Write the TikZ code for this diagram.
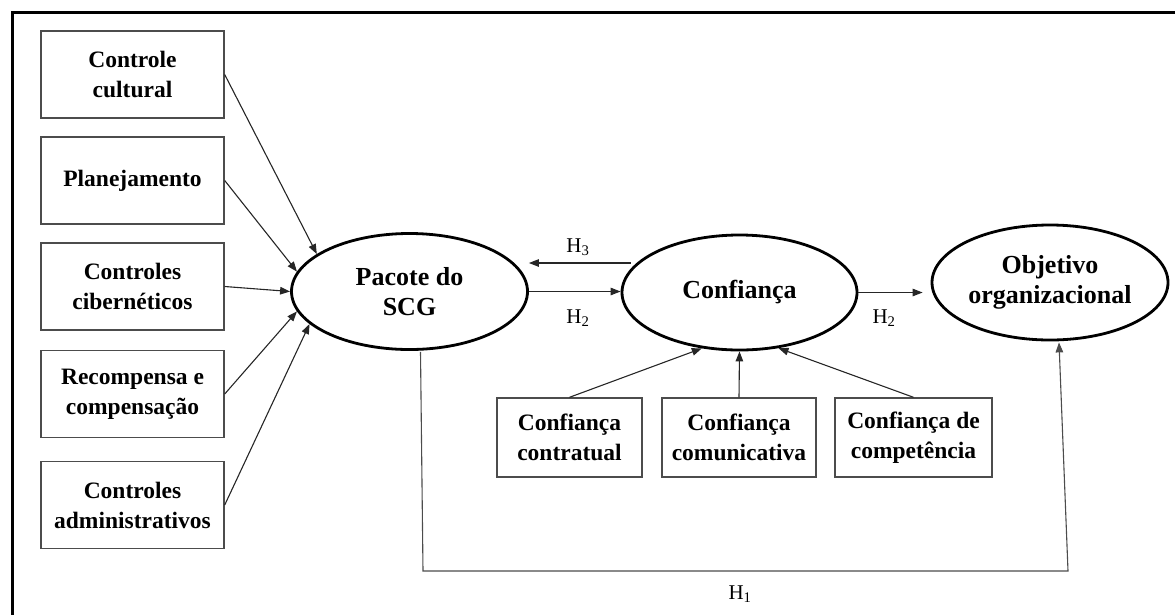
\documentclass[tikz,border=0pt]{standalone}
\usepackage{fontspec}
\setmainfont{Liberation Serif}
\usetikzlibrary{arrows.meta,shapes.geometric,calc}
\begin{document}
\begin{tikzpicture}[x=1pt,y=-1pt,
 box/.style={draw=black!70, line width=1.4pt, minimum width=183pt, minimum height=87pt, align=center, inner sep=0pt, font=\fontsize{23.5}{30}\selectfont\bfseries},
 sbox/.style={draw=black!70, line width=1.4pt, minimum height=79pt, align=center, inner sep=0pt, font=\fontsize{23.5}{30}\selectfont\bfseries},
 ell/.style={draw, ellipse, line width=2.8pt, minimum width=236pt, minimum height=116pt, align=center, inner sep=0pt, font=\fontsize{26}{30}\selectfont\bfseries},
 arr/.style={-{Triangle[length=10pt,width=7.5pt]}, line width=1.1pt, black!85},
 lab/.style={font=\fontsize{21}{22}\selectfont, inner sep=0pt}]
\useasboundingbox (0,0) rectangle (1175,614);
\clip (0,0) rectangle (1175,614);
\draw[line width=3pt] (12,620) -- (12,12) -- (1180,12);

\node[box] (b1) at (132.5,74.5) {Controle\\cultural};
\node[box] (b2) at (132.5,180.5) {Planejamento};
\node[box] (b3) at (132.5,286.5) {Controles\\cibernéticos};
\node[box] (b4) at (132.5,394) {Recompensa e\\compensação};
\node[box] (b5) at (132.5,505) {Controles\\administrativos};

\node[ell] (pac) at (409.5,291.5) {Pacote do\\SCG};
\node[ell, minimum width=235pt, minimum height=115pt] (conf) at (739.5,292.5) {Confiança};
\node[ell, minimum height=115pt] (obj) at (1050,282.5) {Objetivo\\organizacional};

\node[sbox, minimum width=145pt] (c1) at (569.5,437.5) {Confiança\\contratual};
\node[sbox, minimum width=154pt] (c2) at (739,437.5) {Confiança\\comunicativa};
\node[sbox, minimum width=157pt] (c3) at (913.5,437.5) {Confiança de\\competência};

\draw[arr] (b1.east) -- (pac.158);
\draw[arr] (b2.east) -- (pac.170.6);
\draw[arr] (b3.east) -- (pac.180);
\draw[arr] (b4.east) -- (pac.190.4);
\draw[arr] (b5.east) -- (pac.198);

\draw[arr] ($(conf.west)+(10,-29.5)$) -- ($(pac.east)+(0,-28.5)$);
\draw[arr] (pac.east) -- (pac.east -| conf.west);
\draw[arr] (conf.east) -- ($(conf.east -| obj.west)+(-8,0)$);

\draw[arr] (c1.north) -- (conf.236);
\draw[arr] (c2.north) -- (conf.south);
\draw[arr] (c3.north) -- (conf.305);

\coordinate (h1a) at (423,571);
\coordinate (h1b) at (1068,571);
\draw[arr, black!70] ($(pac.south)+(11,1)$) -- (h1a) -- (h1b) -- ($(obj.south)+(9,1)$);

\node[lab] (l3) at (578,247) {H\textsubscript{3}};
\node[lab] (l2a) at (578,318) {H\textsubscript{2}};
\node[lab] (l2b) at (884,318) {H\textsubscript{2}};
\node[lab] (l1) at (740,594) {H\textsubscript{1}};
\end{tikzpicture}
\end{document}
